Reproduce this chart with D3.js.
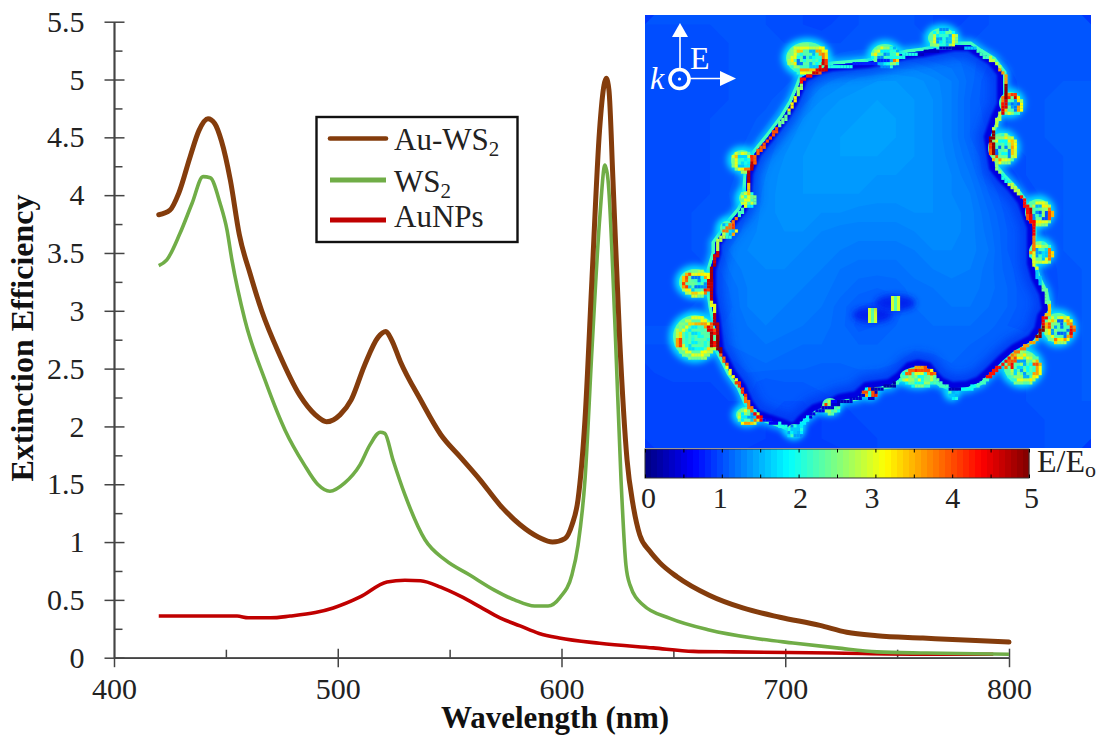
<!DOCTYPE html>
<html>
<head>
<meta charset="utf-8">
<title>Extinction Efficiency</title>
<script src="https://d3js.org/d3.v7.min.js"></script>
<style>
html, body { margin: 0; padding: 0; background: white; }
svg { display: block; }
text { font-family: "Liberation Serif", "Times New Roman", serif; fill: #222; }
</style>
</head>
<body>
<script>
// spectra, [wavelength nm, extinction efficiency]
var auWs2 = [[420,3.83],[425,3.87],[429,4.02],[434,4.33],[438,4.56],[442,4.66],[445,4.62],[448,4.47],[452,4.13],[456,3.66],[461,3.31],[466,3.0],[474,2.62],[483,2.27],[490,2.10],[495,2.04],[501,2.1],[506,2.23],[512,2.53],[518,2.77],[521.5,2.82],[524,2.75],[528,2.56],[537,2.23],[546,1.93],[555,1.73],[563.5,1.54],[572.5,1.32],[581.5,1.15],[590,1.04],[596,1.0],[601.5,1.03],[604.7,1.15],[607.4,1.37],[610.5,2.06],[613.6,3.27],[617,4.56],[619,4.95],[620,5.01],[621.2,4.91],[623,4.13],[626,2.75],[629.3,1.71],[632,1.32],[635,1.06],[639.5,0.92],[644,0.82],[651.6,0.70],[666,0.54],[681,0.43],[697.6,0.35],[715.5,0.28],[727.5,0.22],[741,0.19],[761.5,0.17],[782.6,0.15],[800,0.135]];
var ws2 = [[420,3.39],[423.6,3.44],[429.5,3.67],[434.9,3.93],[439.8,4.16],[443,4.15],[447.4,3.93],[450.5,3.70],[452.7,3.44],[458.5,2.92],[467.5,2.40],[476.4,1.97],[485,1.67],[491,1.50],[496.5,1.44],[503,1.51],[510,1.67],[514.4,1.84],[519,1.95],[521,1.94],[524.7,1.71],[530,1.41],[539,1.02],[548,0.845],[559,0.715],[570,0.585],[579,0.50],[588,0.447],[594,0.447],[599.3,0.52],[604.7,0.72],[607.4,0.975],[610.5,1.54],[613.6,2.66],[617.2,3.83],[619.4,4.26],[620.8,4.13],[624,2.83],[626.6,1.54],[628.8,0.80],[630.6,0.63],[636.5,0.455],[648.5,0.34],[666,0.24],[685.6,0.17],[703.5,0.127],[723,0.085],[741,0.05],[763,0.04],[800,0.03]];
var auNps = [[420,0.36],[455,0.36],[460,0.345],[470,0.345],[478.7,0.36],[490,0.39],[498,0.43],[510,0.525],[522,0.655],[530,0.67],[537,0.665],[546,0.61],[555,0.53],[563.6,0.44],[572.5,0.345],[581.5,0.275],[590,0.21],[599,0.17],[617,0.125],[641,0.085],[659,0.055],[676.6,0.05],[721,0.04],[759,0.03],[793,0.03]];

var xMajor = [400,500,600,700,800];
var xMinor = [450,550,650,750];
var yMajor = [0,0.5,1,1.5,2,2.5,3,3.5,4,4.5,5,5.5];
var yMinor = [0.25,0.75,1.25,1.75,2.25,2.75,3.25,3.75,4.25,4.75,5.25];
var yLabels = ["0","0.5","1","1.5","2","2.5","3","3.5","4","4.5","5","5.5"];

var barLabels = [0,1,2,3,4,5];
var barNudge = [3,-2,1.5,-4,0,2];
var barTicks = [0,0.5,1,1.5,2,2.5,3,3.5,4,4.5,5];

// E/Eo field inset, coarse background (24 x 23 samples, hundredths)
var fieldRows = [
[104,104,104,104,104,104,104,102,100,98,102,104,104,104,104,100,98,102,104,105,106,106,106,106],
[100,100,100,102,104,104,106,104,104,104,104,104,104,104,104,104,104,104,106,106,106,106,106,106],
[100,100,100,102,104,104,104,106,108,108,112,116,116,116,116,112,110,106,100,104,106,106,106,106],
[100,100,100,102,104,104,104,106,112,118,122,126,128,128,126,122,116,106,96,102,106,106,108,108],
[100,100,100,102,104,106,106,112,118,124,128,130,132,130,128,124,116,104,96,100,106,108,108,108],
[100,100,102,104,106,106,110,118,124,128,130,132,134,132,128,124,116,104,98,104,106,108,108,108],
[100,100,102,104,106,108,116,122,126,130,132,134,134,132,128,124,116,104,100,104,106,108,108,108],
[100,100,102,104,106,110,118,124,128,130,132,132,132,130,128,124,118,108,100,102,104,106,108,108],
[100,102,102,104,106,112,120,126,128,130,130,130,128,128,126,124,120,112,100,96,104,106,108,108],
[100,102,102,104,108,114,122,126,128,128,128,128,126,126,124,124,120,116,104,96,100,106,108,108],
[102,102,104,104,106,116,122,126,126,124,124,122,122,122,124,124,122,118,108,98,98,104,108,108],
[102,102,104,104,112,118,122,124,124,120,118,118,118,118,120,122,122,118,110,100,96,104,108,108],
[102,102,104,104,116,120,122,122,120,118,116,114,114,114,116,120,120,118,112,100,96,102,108,108],
[102,102,102,104,112,118,120,120,118,116,112,110,110,110,114,116,118,116,110,102,96,100,106,108],
[102,102,102,104,108,116,118,118,116,114,110,106,104,106,110,112,114,114,110,104,96,98,106,108],
[102,102,104,104,106,116,118,116,114,112,106,100,98,100,108,110,112,112,108,104,96,100,106,108],
[104,104,104,104,110,112,116,114,112,110,106,98,100,104,106,108,108,108,106,100,98,104,106,108],
[104,104,104,104,108,110,112,110,108,108,106,104,104,106,106,106,106,104,100,100,104,104,106,108],
[102,102,102,102,102,106,108,106,106,104,104,106,106,104,100,102,104,102,100,100,102,104,106,108],
[98,100,100,100,100,102,98,100,100,102,102,100,100,100,100,100,100,100,102,102,104,104,106,108],
[98,98,98,98,100,100,98,96,96,98,100,100,100,100,100,100,100,102,102,102,104,104,106,108],
[98,98,98,98,98,98,96,94,94,96,98,100,100,100,100,100,100,100,102,102,102,104,104,106],
[98,98,98,98,98,98,96,92,92,96,98,98,100,100,100,100,100,100,100,102,102,104,104,104]
];

// flake edge in map units, [x, y, E/Eo]
var edge = [[157,62,4.3],[153,73,2.6],[147,87,3.2],[138,102,2.4],[123,122,4.0],[110,138,3.9],[102,158,4.7],[101,172,3.4],[101,183,3.0],[95,195,2.2],[85,207,3.8],[70,228,2.8],[70,238,4.6],[65,255,4.8],[65,278,4.7],[67,292,3.0],[69,302,4.7],[73,335,4.9],[77,342,3.9],[85,358,3.1],[95,372,4.1],[102,388,3.8],[110,400,4.4],[123,405,0.6],[138,410,2.0],[149,415,1.6],[158,405,1.8],[170,395,0.5],[185,390,0.4],[195,385,0.3],[212,382,0.4],[222,373,4.0],[230,372,0.3],[245,370,0.2],[255,363,2.2],[265,353,3.9],[273,351,3.6],[282,353,4.0],[290,363,2.4],[295,368,2.2],[307,373,0.3],[322,372,1.9],[335,367,2.2],[345,358,4.3],[358,345,4.3],[370,335,3.8],[388,325,3.6],[395,315,4.9],[398,302,4.4],[403,295,3.4],[400,278,2.4],[392,262,1.6],[388,248,3.0],[388,225,3.8],[388,212,4.4],[378,185,4.3],[368,172,2.8],[358,162,2.0],[350,152,2.6],[345,122,4.9],[352,102,2.8],[358,90,4.5],[358,75,4.9],[358,58,3.6],[348,45,2.8],[335,37,2.2],[325,30,1.6],[308,30,0.3],[278,36,0.3],[262,38,2.0],[223,47,0.8],[187,50,2.0],[175,53,4.6]];

// gold particles on the edge
var partX  = [162,240,297,365,357,393,395,413,377,273,307,225,185,149,102,50,50,82,101,97];
var partY  = [43,40,23,88,133,197,237,313,352,361,378,377,390,415,400,322,267,213,183,145];
var partRx = [21,14,14,11,14,13,11,15,18,18,4,6,8,7,11,22,16,7,7,11];
var partRy = [16,11,10,11,15,13,11,15,17,9,4,5,7,6,8,22,13,7,7,10];
var partRing = [
[4.6,4.4,3.4,3.6,2.6,3.2,3.0,3.4,3.0,2.8,3.6,3.8],
[3.8,2.6,1.8,1.5,2.4,3.2,3.0,2.6,2.0,2.8],
[3.0,2.6,2.0,2.6,3.0,2.8,2.4,1.8,2.4,3.2],
[3.6,2.6,3.0,3.4,4.3,4.2,4.6,3.2],
[3.4,2.8,3.0,3.6,4.0,4.4,4.6,3.0,2.6,3.2,3.4,3.6],
[4.0,3.0,3.2,4.3,4.5,4.7,2.8,3.0,3.2,3.8],
[3.8,3.0,2.8,2.6,4.2,3.0,2.6,3.8],
[4.5,3.6,3.2,3.8,3.0,3.2,4.0,3.4,2.8,3.2,3.6,4.2],
[3.6,3.2,2.8,3.0,2.6,2.8,4.4,4.0,3.2,3.0,2.8,4.0],
[2.8,2.6,3.0,2.4,3.2,2.4,4.2,4.0,3.6,4.3],
[2.0,1.8,2.2,1.6],
[4.2,0.4,3.6,2.4,0.5,4.0],
[2.4,2.8,3.0,2.6,4.1,2.8,0.6,2.2],
[1.8,1.9,2.2,1.9,1.7,2.0,2.0],
[3.8,3.4,3.6,2.9,2.7,3.0,2.4,3.4],
[4.8,3.3,3.1,2.9,3.0,2.9,4.1,3.3,3.0,3.3,3.5,3.6,4.5,4.8],
[4.6,4.3,3.0,3.4,3.2,4.1,3.9,4.0,3.0,3.2,3.6,4.6],
[3.6,2.6,2.0,2.2,2.0,3.4,4.1],
[2.9,2.3,2.8,2.4,2.9,2.5,3.0],
[4.7,3.8,3.2,3.0,3.0,3.4,3.0,2.8,4.2]
];
var partCore = [
[1.9,1.6,2.2,1.2,2.0,2.3,1.5,2.1],
[1.5,2.0,1.3,2.2,1.8,2.1],
[1.6,2.0,1.4,1.8,2.1,1.5],
[1.2,2.2,1.6,2.4,1.4],
[1.3,2.4,1.1,2.2,1.9,2.5],
[1.0,2.4,1.3,2.2,1.5,2.6],
[1.6,2.4,1.4,2.2,1.7],
[1.2,2.3,1.4,2.5,1.1,2.2],
[2.1,1.5,2.6,1.7,2.3,1.4,2.5,1.9],
[2.4,1.9,2.6,2.2,3.0,2.0],
[1.5,1.6],
[0.3,2.0,4.0],
[2.2,2.6,1.9,2.3],
[1.4,1.8,1.5],
[1.6,2.3,1.8,2.6,1.4],
[2.0,1.9,1.7,2.1,2.0,1.8,2.2,2.3],
[1.3,2.2,1.6,2.4,1.2,2.0],
[1.5,2.0,1.7],
[2.2,1.9,2.4],
[1.8,1.6,2.1,1.7,2.0]
];

// the two small bars in the middle of the flake, three strips each
var stripX = [223,246];
var stripY = [293,281];
var stripValue = [2.9,2.3,2.9];

var width = 1100, height = 737;
var svg = d3.select("body").append("svg")
    .attr("width", width)
    .attr("height", height);

var defs = svg.append("defs");
[1, 3, 5].forEach(function(s) {
    defs.append("filter").attr("id", "blur" + s).attr("x", "-50%").attr("y", "-50%").attr("width", "200%").attr("height", "200%")
        .append("feGaussianBlur").attr("stdDeviation", s);
});

//////////// inset map
var mapX = d3.scaleLinear().domain([0, 446]).range([645, 1091]);
var mapY = d3.scaleLinear().domain([0, 433]).range([15, 448]);
var jet = d3.scaleLinear()
    .domain([0, 0.625, 1.875, 3.125, 4.375, 5])
    .range(["#00007f", "#0000ff", "#00ffff", "#ffff00", "#ff0000", "#7f0000"])
    .clamp(true);

var cell = 3.1;
function snap(v) { return Math.round(v / cell) * cell; }

var flat = fieldRows.reduce(function(a, r) { return a.concat(r); }, []).map(function(v) { return v / 100; });
var bands = d3.contours().size([24, 23]).thresholds(d3.range(0.92, 1.38, 0.04))(flat);
var fieldPath = d3.geoPath(d3.geoTransform({
    point: function(x, y) {
        this.stream.point(645 + x * 446 / 24, 15 + y * 433 / 23);
    }
}));

defs.append("clipPath").attr("id", "mapClip").append("rect")
    .attr("x", mapX(0)).attr("y", mapY(0))
    .attr("width", mapX(446) - mapX(0)).attr("height", mapY(433) - mapY(0));

var flakeLine = d3.line().x(function(d) { return mapX(d[0]); }).y(function(d) { return mapY(d[1]); }).curve(d3.curveLinearClosed);
defs.append("clipPath").attr("id", "flakeClip").append("path").attr("d", flakeLine(edge));

var map = svg.append("g").attr("clip-path", "url(#mapClip)");

function drawField(g, lift) {
    g.append("rect")
        .attr("x", mapX(0)).attr("y", mapY(0))
        .attr("width", mapX(446) - mapX(0)).attr("height", mapY(433) - mapY(0))
        .attr("fill", jet(0.9 + lift));
    g.selectAll("path.band").data(bands).enter().append("path")
        .attr("class", "band")
        .attr("d", fieldPath)
        .attr("fill", function(d) { return jet(d.value + lift); });
}
drawField(map.append("g"), 0);

// glow outside of edge and particles
map.append("path").attr("d", flakeLine(edge))
    .attr("fill", "none").attr("stroke", jet(1.7)).attr("stroke-width", 12)
    .attr("opacity", 0.8).attr("filter", "url(#blur3)");
map.append("path").attr("d", flakeLine(edge))
    .attr("fill", "none").attr("stroke", jet(2.2)).attr("stroke-width", 7);
var glow = map.append("g").attr("filter", "url(#blur3)");
partX.forEach(function(px, i) {
    glow.append("ellipse")
        .attr("cx", mapX(px)).attr("cy", mapY(partY[i]))
        .attr("rx", partRx[i] + 4).attr("ry", partRy[i] + 4)
        .attr("fill", jet(1.75));
});

// inside of the flake
var inside = map.append("g").attr("clip-path", "url(#flakeClip)");
drawField(inside, 0.1);
inside.append("path").attr("d", flakeLine(edge))
    .attr("fill", "none").attr("stroke", "#0030f0").attr("stroke-width", 26)
    .attr("opacity", 0.7).attr("filter", "url(#blur5)");
inside.append("path").attr("d", flakeLine(edge))
    .attr("fill", "none").attr("stroke", "#0000e0").attr("stroke-width", 12)
    .attr("filter", "url(#blur1)");

// particles drawn as map cells
function putCells(g, list) {
    g.selectAll(null).data(list).enter().append("rect")
        .attr("x", function(d) { return d[0]; })
        .attr("y", function(d) { return d[1]; })
        .attr("width", cell + 0.1)
        .attr("height", cell + 0.1)
        .attr("fill", function(d) { return jet(d[2]); });
}
function ringCells(cx, cy, rx, ry, values) {
    var seen = {}, out = [];
    var n = Math.max(12, Math.round(2 * Math.PI * Math.max(rx, ry) / cell * 1.5));
    d3.range(n).forEach(function(k) {
        var a = k / n * 2 * Math.PI;
        var x = snap(cx + rx * Math.cos(a)), y = snap(cy + ry * Math.sin(a));
        var key = x + "_" + y;
        if (seen[key]) return;
        seen[key] = 1;
        out.push([x, y, values[Math.floor(k / n * values.length)]]);
    });
    return out;
}

var parts = map.append("g");
partX.forEach(function(px, i) {
    var cx = mapX(px), cy = mapY(partY[i]);
    parts.append("ellipse")
        .attr("cx", cx).attr("cy", cy)
        .attr("rx", partRx[i]).attr("ry", partRy[i])
        .attr("fill", jet(2.3));
    putCells(parts, ringCells(cx, cy, partRx[i] * 0.9, partRy[i] * 0.9, partRing[i].map(function(v) { return v - 0.5; })));
    putCells(parts, ringCells(cx, cy, partRx[i] * 0.72, partRy[i] * 0.72, partRing[i]));
    putCells(parts, ringCells(cx, cy, partRx[i] * 0.5, partRy[i] * 0.5, partCore[i]));
    putCells(parts, ringCells(cx, cy, partRx[i] * 0.22, partRy[i] * 0.22, partCore[i].slice().reverse()));
});

// edge cells
var rimSeen = {}, rim = [];
edge.forEach(function(p, i) {
    var q = edge[(i + 1) % edge.length];
    var len = Math.hypot(q[0] - p[0], q[1] - p[1]);
    var steps = Math.ceil(len / cell * 1.4);
    d3.range(steps).forEach(function(k) {
        var t = k / steps;
        var x = snap(mapX(p[0] + (q[0] - p[0]) * t));
        var y = snap(mapY(p[1] + (q[1] - p[1]) * t));
        var key = x + "_" + y;
        if (rimSeen[key]) return;
        rimSeen[key] = 1;
        rim.push([x, y, t < 0.5 ? p[2] : q[2]]);
    });
});
putCells(map.append("g"), rim);

// small middle bars
stripX.forEach(function(sx, i) {
    map.append("ellipse")
        .attr("cx", mapX(sx + 4.5)).attr("cy", mapY(stripY[i] + 7))
        .attr("rx", 20).attr("ry", 8)
        .attr("fill", "#0020ee").attr("filter", "url(#blur3)");
    stripValue.forEach(function(v, j) {
        map.append("rect")
            .attr("x", mapX(sx + j * 3))
            .attr("y", mapY(stripY[i]))
            .attr("width", 3.1)
            .attr("height", 15)
            .attr("fill", jet(v));
    });
});

// E and k arrows
var arrows = svg.append("g");
arrows.append("line").attr("x1", 680).attr("x2", 680).attr("y1", 70).attr("y2", 34)
    .attr("stroke", "white").attr("stroke-width", 1.6);
arrows.append("line").attr("x1", 689).attr("x2", 722).attr("y1", 78.5).attr("y2", 78.5)
    .attr("stroke", "white").attr("stroke-width", 1.6);
arrows.append("path").attr("d", d3.line()([[680, 23], [672, 37], [688, 37]]) + "Z").attr("fill", "white");
arrows.append("path").attr("d", d3.line()([[736, 78.5], [720, 71], [720, 86]]) + "Z").attr("fill", "white");
arrows.append("circle").attr("cx", 679.5).attr("cy", 79).attr("r", 9.5)
    .attr("fill", "none").attr("stroke", "white").attr("stroke-width", 3.6);
arrows.append("circle").attr("cx", 679.5).attr("cy", 79).attr("r", 1.6).attr("fill", "white");
arrows.append("text").attr("x", 690).attr("y", 69).attr("font-size", 32).style("fill", "white").text("E");
arrows.append("text").attr("x", 650).attr("y", 89).attr("font-size", 32).attr("font-style", "italic").style("fill", "white").text("k");

//////////// colour bar
var barScale = d3.scaleLinear().domain([0, 5]).range([645, 1029]);
var barTop = 449, barBottom = 478;
var colorBar = svg.append("g");
colorBar.selectAll("rect").data(d3.range(64)).enter().append("rect")
    .attr("x", function(d) { return barScale(d / 64 * 5); })
    .attr("y", barTop)
    .attr("width", barScale(5 / 64) - barScale(0) + 0.3)
    .attr("height", barBottom - barTop)
    .attr("fill", function(d) { return jet((d + 0.5) / 64 * 5); });
colorBar.append("rect").attr("x", 645).attr("y", barTop).attr("width", 384).attr("height", barBottom - barTop)
    .attr("fill", "none").attr("stroke", "#333").attr("stroke-width", 1);
colorBar.append("g").attr("transform", "translate(0," + barTop + ")")
    .call(d3.axisTop(barScale).tickValues(barTicks).tickSize(-3.5).tickFormat(""))
    .call(function(g) { g.select(".domain").remove(); });
colorBar.append("g").attr("transform", "translate(0," + barBottom + ")")
    .call(d3.axisBottom(barScale).tickValues(barTicks).tickSize(-3.5).tickFormat(""))
    .call(function(g) { g.select(".domain").remove(); });
colorBar.append("g").attr("transform", "translate(0," + barBottom + ")")
    .call(d3.axisBottom(barScale).tickValues(barLabels).tickSize(0).tickPadding(8.5).tickFormat(d3.format("d")))
    .call(function(g) { g.select(".domain").remove(); })
    .selectAll("text").attr("font-size", 30).attr("dx", function(d, i) { return barNudge[i]; });

var barTitle = svg.append("text").attr("x", 1037).attr("y", 472).attr("font-size", 32);
barTitle.append("tspan").text("E/E");
barTitle.append("tspan").attr("font-size", 22).attr("dy", 5).text("o");

//////////// main chart
var x = d3.scaleLinear().domain([400, 800]).range([114, 1009]);
var y = d3.scaleLinear().domain([0, 5.5]).range([657.7, 21.7]);

var axisColor = "#444";
function styleAxis(g) {
    g.selectAll("line,path").attr("stroke", axisColor).attr("stroke-width", 1.5);
    g.selectAll("text").attr("font-size", 30).style("fill", "#222");
}

svg.append("g").attr("transform", "translate(114,0)")
    .call(d3.axisLeft(y).tickValues(yMajor).tickSize(9.5).tickSizeOuter(0).tickPadding(20)
        .tickFormat(function(d, i) { return yLabels[i]; }))
    .call(styleAxis);
svg.append("g").attr("transform", "translate(114,0)")
    .call(d3.axisRight(y).tickValues(yMajor).tickSize(10.5).tickSizeOuter(0).tickFormat(""))
    .call(styleAxis);
svg.append("g").attr("transform", "translate(114,0)")
    .call(d3.axisRight(y).tickValues(yMinor).tickSize(8.5).tickSizeOuter(0).tickFormat(""))
    .call(styleAxis);

svg.append("g").attr("transform", "translate(0,657.7)")
    .call(d3.axisBottom(x).tickValues(xMajor).tickSize(9.5).tickSizeOuter(0).tickPadding(11)
        .tickFormat(d3.format("d")))
    .call(styleAxis);
svg.append("g").attr("transform", "translate(0,657.7)")
    .call(d3.axisTop(x).tickValues(xMajor.slice(1)).tickSize(9).tickSizeOuter(0).tickFormat(""))
    .call(styleAxis);
svg.append("g").attr("transform", "translate(0,657.7)")
    .call(d3.axisTop(x).tickValues(xMinor).tickSize(8).tickSizeOuter(0).tickFormat(""))
    .call(styleAxis);

svg.append("text").attr("x", 555).attr("y", 728).attr("text-anchor", "middle")
    .attr("font-size", 31).attr("font-weight", "bold").style("fill", "#111").text("Wavelength (nm)");
svg.append("text").attr("transform", "translate(33,338) rotate(-90)").attr("text-anchor", "middle")
    .attr("font-size", 32).attr("font-weight", "bold").style("fill", "#111").text("Extinction Efficiency");

var line = d3.line().x(function(d) { return x(d[0]); }).y(function(d) { return y(d[1]); }).curve(d3.curveMonotoneX);

svg.append("path").datum(auNps).attr("d", line).attr("fill", "none")
    .attr("stroke", "#c00000").attr("stroke-width", 3.6).attr("stroke-linejoin", "round");
svg.append("path").datum(ws2).attr("d", line).attr("fill", "none")
    .attr("stroke", "#70ad47").attr("stroke-width", 3.6).attr("stroke-linejoin", "round");
svg.append("path").datum(auWs2).attr("d", line).attr("fill", "none")
    .attr("stroke", "#843c0c").attr("stroke-width", 5).attr("stroke-linejoin", "round").attr("stroke-linecap", "round");

//////////// legend
var legendY = [138.5, 180, 220];
var legendBase = [150, 192, 227];
var legendColor = ["#843c0c", "#70ad47", "#c00000"];
var legendName = ["Au-WS", "WS", "AuNPs"];
var legendSub = ["2", "2", ""];

var legend = svg.append("g");
legend.append("rect").attr("x", 316.5).attr("y", 117).attr("width", 201).attr("height", 125)
    .attr("fill", "white").attr("stroke", "#111").attr("stroke-width", 2.4);
legendName.forEach(function(name, i) {
    legend.append("line")
        .attr("x1", 330).attr("x2", 386)
        .attr("y1", legendY[i]).attr("y2", legendY[i])
        .attr("stroke", legendColor[i])
        .attr("stroke-width", i == 0 ? 4.6 : 5)
        .attr("stroke-linecap", i == 0 ? "round" : "butt");
    var t = legend.append("text").attr("x", 394).attr("y", legendBase[i]).attr("font-size", 31);
    t.append("tspan").text(name);
    if (legendSub[i]) t.append("tspan").attr("font-size", 21).attr("dy", 6).text(legendSub[i]);
});
</script>
</body>
</html>
